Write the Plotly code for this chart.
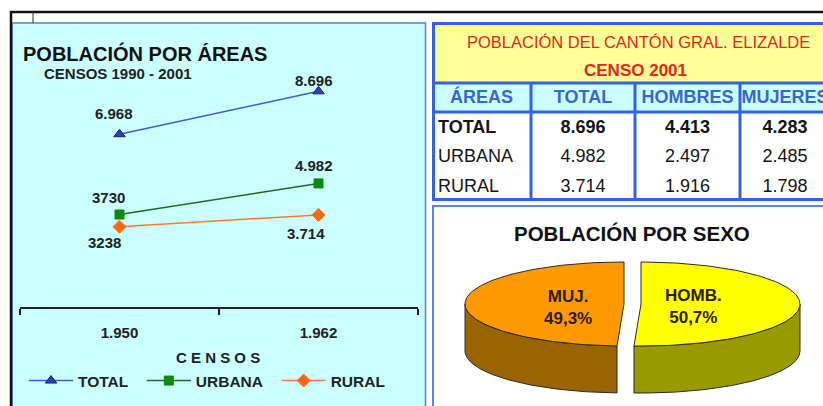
import math
import plotly.graph_objects as go

W, H = 823, 406
FONT = "Liberation Sans, Arial, sans-serif"

# ---------------- data ----------------
censos = ["1.950", "1.962"]
total_vals = [6968, 8696]
urbana_vals = [3730, 4982]
rural_vals = [3238, 3714]
total_labels = ["6.968", "8.696"]
urbana_labels = ["3730", "4.982"]
rural_labels = ["3238", "3.714"]

table_headers = ["ÁREAS", "TOTAL", "HOMBRES", "MUJERES"]
table_areas = ["TOTAL", "URBANA", "RURAL"]
table_total = [8696, 4982, 3714]
table_hombres = [4413, 2497, 1916]
table_mujeres = [4283, 2485, 1798]

sexo_labels = ["HOMB.", "MUJ."]
sexo_pct = [50.7, 49.3]


def px(x):
    return x / W


def py(y):
    return 1 - y / H


def fmt(v):
    return f"{v:,}".replace(",", ".")


fig = go.Figure()
annotations = []

# ---------------- line chart ----------------
series = [
    ("TOTAL", total_vals, total_labels, "#3F5BD8", "#2E3FB8", "triangle-up", 10, 2),
    ("URBANA", urbana_vals, urbana_labels, "#1E6B1E", "#0A8A0A", "square", 9, 2),
    ("RURAL", rural_vals, rural_labels, "#FF7A33", "#FF6A10", "diamond", 10, 0),
]
for name, vals, labs, lc, mc, sym, sz, gap in series:
    fig.add_trace(go.Scatter(
        x=censos, y=vals, mode="lines+markers", name=name + "\u00a0" * gap,
        line=dict(color=lc, width=1.5),
        marker=dict(symbol=sym, size=sz, color=mc,
                    line=dict(color="#1a237e" if name == "TOTAL" else mc, width=1)),
        xaxis="x", yaxis="y", hoverinfo="skip",
    ))

# label offsets (pixels) for each series/point
label_offsets = {
    "TOTAL": [(-6, 21), (-5, 11)],
    "URBANA": [(-11, 17), (-5, 18)],
    "RURAL": [(-15, -16), (-13, -19)],
}
for name, vals, labs, *_ in series:
    for i, (v, t) in enumerate(zip(vals, labs)):
        dx, dy = label_offsets[name][i]
        annotations.append(dict(
            x=i, y=v, xref="x", yref="y", text=t, showarrow=False,
            xshift=dx, yshift=dy, font=dict(family=FONT, size=15, color="#222", weight="bold"),
        ))

# ---------------- table (text placed on a pixel grid built from column widths) ----------------
TAB_X0, TAB_X1, TAB_Y0, TAB_Y1 = 432, 823, 83, 200
col_widths = [99, 104, 105, 90]
col_centers = []
acc = TAB_X0
for wdt in col_widths:
    col_centers.append(acc + wdt / 2)
    acc += wdt
ROW_PITCH, HEADER_CENTER = 29.5, 98.5
row_centers = [HEADER_CENTER + ROW_PITCH * (i + 1) for i in range(len(table_areas))]
LEFT_PAD = 6

fig.add_trace(go.Scatter(
    x=col_centers, y=[HEADER_CENTER] * len(table_headers), mode="text",
    text=[f"<b>{h}</b>" for h in table_headers], textposition="middle center",
    textfont=dict(family=FONT, size=18, color="#3A66D0"),
    xaxis="x3", yaxis="y3", showlegend=False, hoverinfo="skip", cliponaxis=True,
))
fig.add_trace(go.Scatter(
    x=[TAB_X0 + LEFT_PAD] * len(table_areas), y=row_centers, mode="text",
    text=[f"<b>{a}</b>" if i == 0 else a for i, a in enumerate(table_areas)],
    textposition="middle right", textfont=dict(family=FONT, size=18, color="#151515"),
    xaxis="x3", yaxis="y3", showlegend=False, hoverinfo="skip",
))
cx_list, cy_list, ct_list = [], [], []
for j, arr in enumerate((table_total, table_hombres, table_mujeres), start=1):
    for i, v in enumerate(arr):
        cx_list.append(col_centers[j])
        cy_list.append(row_centers[i])
        ct_list.append(f"<b>{fmt(v)}</b>" if i == 0 else fmt(v))
fig.add_trace(go.Scatter(
    x=cx_list, y=cy_list, mode="text", text=ct_list, textposition="middle center",
    textfont=dict(family=FONT, size=18, color="#151515"),
    xaxis="x3", yaxis="y3", showlegend=False, hoverinfo="skip", cliponaxis=True,
))

# ---------------- 3D-looking pie ----------------
cx, cy, rx, ry, depth, explode = 632.5, 304, 159, 42, 47, 8.5
top_colors = ["#FFFF00", "#FF9900"]
side_colors = ["#999900", "#9A6400"]


def ept(theta, ox, oy, dz=0.0):
    t = math.radians(theta)
    return ox + rx * math.cos(t), oy - ry * math.sin(t) + dz


def arc(a_from, a_to, ox, oy, dz=0.0, n=120):
    xs, ys = [], []
    for k in range(n + 1):
        th = a_from + (a_to - a_from) * k / n
        x, y = ept(th, ox, oy, dz)
        xs.append(x)
        ys.append(y)
    return xs, ys


total_pct = sum(sexo_pct)
start = 90.0
sides, tops = [], []
for lab, pct, tc, sc in zip(sexo_labels, sexo_pct, top_colors, side_colors):
    span = pct / total_pct * 360.0
    a0, a1 = start, start - span
    mid = math.radians((a0 + a1) / 2)
    ox = cx + explode * math.cos(mid)
    oy = cy - explode * math.sin(mid) * ry / rx
    ax, ay = arc(a0, a1, ox, oy)
    tops.append(([ox] + ax + [ox], [oy] + ay + [oy], tc))
    lo_s, hi_s = min(a0, a1), max(a0, a1)
    for k in (-1, 0, 1):
        f_lo, f_hi = -180 + 360 * k, 360 * k
        lo, hi = max(lo_s, f_lo), min(hi_s, f_hi)
        if hi - lo > 0.01:
            tx, ty = arc(lo, hi, ox, oy)
            bx, by = arc(hi, lo, ox, oy, depth)
            sides.append((tx + bx + [tx[0]], ty + by + [ty[0]], sc))
    start = a1

for xs, ys, col in sides + tops:
    fig.add_trace(go.Scatter(
        x=xs, y=ys, mode="lines", fill="toself", fillcolor=col,
        line=dict(color="#2a2a2a", width=1), xaxis="x2", yaxis="y2",
        showlegend=False, hoverinfo="skip",
    ))

pie_label_pos = {"HOMB.": (693, 306), "MUJ.": (568, 307)}
for lab, pct in zip(sexo_labels, sexo_pct):
    x, y = pie_label_pos[lab]
    annotations.append(dict(
        x=x, y=y, xref="x2", yref="y2", showarrow=False,
        text=f"{lab}<br>{str(pct).replace('.', ',')}%",
        font=dict(family=FONT, size=17, color="#2b2010", weight="bold"),
    ))


# ---------------- text annotations ----------------
def txt(x, y, t, size, color="#111", weight="bold", xanchor="center"):
    annotations.append(dict(
        x=px(x), y=py(y), xref="paper", yref="paper", text=t, showarrow=False,
        xanchor=xanchor, yanchor="middle",
        font=dict(family=FONT, size=size, color=color, weight=weight),
    ))


txt(21, 53, "POBLACIÓN POR ÁREAS", 20, xanchor="left")
txt(42, 73, "CENSOS 1990 - 2001", 15, color="#222", xanchor="left")
txt(218, 357, "C E N S O S", 15, color="#222")
txt(638, 42, "POBLACIÓN DEL CANTÓN GRAL. ELIZALDE", 16.5, color="#E3261C", weight="normal")
txt(635, 70, "CENSO 2001", 17, color="#E3261C")
txt(632, 234, "POBLACIÓN POR SEXO", 20.5, color="#111")

# ---------------- shapes ----------------
BLUE = "#3162E8"
shapes = [
    dict(type="rect", xref="paper", yref="paper", x0=px(12), x1=px(425.5), y0=py(407), y1=py(23),
         fillcolor="#CCFFFF", line=dict(color="#4F7FE6", width=1.5), layer="below"),
    dict(type="rect", xref="paper", yref="paper", x0=px(433), x1=px(826), y0=py(83), y1=py(24),
         fillcolor="#FFFF99", line=dict(width=0), layer="below"),
    dict(type="rect", xref="paper", yref="paper", x0=px(433), x1=px(826), y0=py(112), y1=py(83),
         fillcolor="#CCFFFF", line=dict(width=0), layer="below"),
    dict(type="rect", xref="paper", yref="paper", x0=px(433), x1=px(826), y0=py(408), y1=py(206),
         fillcolor="white", line=dict(color="#5B84E6", width=2), layer="below"),
    dict(type="rect", xref="paper", yref="paper", x0=px(433.5), x1=px(828), y0=py(199.5), y1=py(23.5),
         line=dict(color=BLUE, width=3), layer="above"),
    dict(type="line", xref="paper", yref="paper", x0=px(432), x1=px(826), y0=py(83), y1=py(83),
         line=dict(color=BLUE, width=3), layer="above"),
    dict(type="line", xref="paper", yref="paper", x0=px(432), x1=px(826), y0=py(112), y1=py(112),
         line=dict(color=BLUE, width=3), layer="above"),
    dict(type="line", xref="paper", yref="paper", x0=px(10), x1=px(826), y0=py(12), y1=py(12),
         line=dict(color="#111", width=2.5), layer="above"),
    dict(type="line", xref="paper", yref="paper", x0=px(11), x1=px(11), y0=py(11), y1=py(408),
         line=dict(color="#111", width=2.5), layer="above"),
    dict(type="line", xref="paper", yref="paper", x0=px(33), x1=px(33), y0=py(12), y1=py(23),
         line=dict(color="#333", width=1), layer="above"),
]
for vx in (531, 635, 740):
    shapes.append(dict(type="line", xref="paper", yref="paper", x0=px(vx), x1=px(vx), y0=py(83), y1=py(199),
                       line=dict(color=BLUE, width=3), layer="above"))

fig.update_layout(
    width=W, height=H, autosize=False,
    margin=dict(l=0, r=0, t=0, b=0),
    paper_bgcolor="white", plot_bgcolor="rgba(0,0,0,0)",
    font=dict(family=FONT, color="#222"),
    xaxis=dict(
        domain=[px(20), px(418)], type="category", range=[-0.5, 1.5],
        showline=True, linecolor="#222", linewidth=1.5, ticks="outside", ticklen=6,
        tickcolor="#222", tickwidth=1.5, tickson="boundaries", showgrid=False, zeroline=False,
        tickfont=dict(family=FONT, size=15, color="#222", weight="bold"), ticklabelstandoff=11,
        anchor="y", fixedrange=True,
    ),
    yaxis=dict(domain=[py(307), py(59)], range=[0, 10000], visible=False, fixedrange=True, anchor="x"),
    xaxis2=dict(domain=[px(432), 1], range=[432, 823], visible=False, fixedrange=True, anchor="y2"),
    yaxis2=dict(domain=[0, py(205)], range=[406, 205], visible=False, fixedrange=True, anchor="x2"),
    xaxis3=dict(domain=[px(TAB_X0), px(TAB_X1)], range=[TAB_X0, TAB_X1], visible=False,
                fixedrange=True, anchor="y3"),
    yaxis3=dict(domain=[py(TAB_Y1), py(TAB_Y0)], range=[TAB_Y1, TAB_Y0], visible=False,
                fixedrange=True, anchor="x3"),
    legend=dict(
        orientation="h", x=px(24), y=py(381), xanchor="left", yanchor="middle",
        itemwidth=44,
        font=dict(family=FONT, size=15.5, color="#222", weight="bold"), bgcolor="rgba(0,0,0,0)",
    ),
    annotations=annotations,
    shapes=shapes,
)

fig.write_html(
    "out.html",
    config={"displayModeBar": False},
    post_script="document.body.style.margin='0px';document.body.style.overflow='hidden';",
)
